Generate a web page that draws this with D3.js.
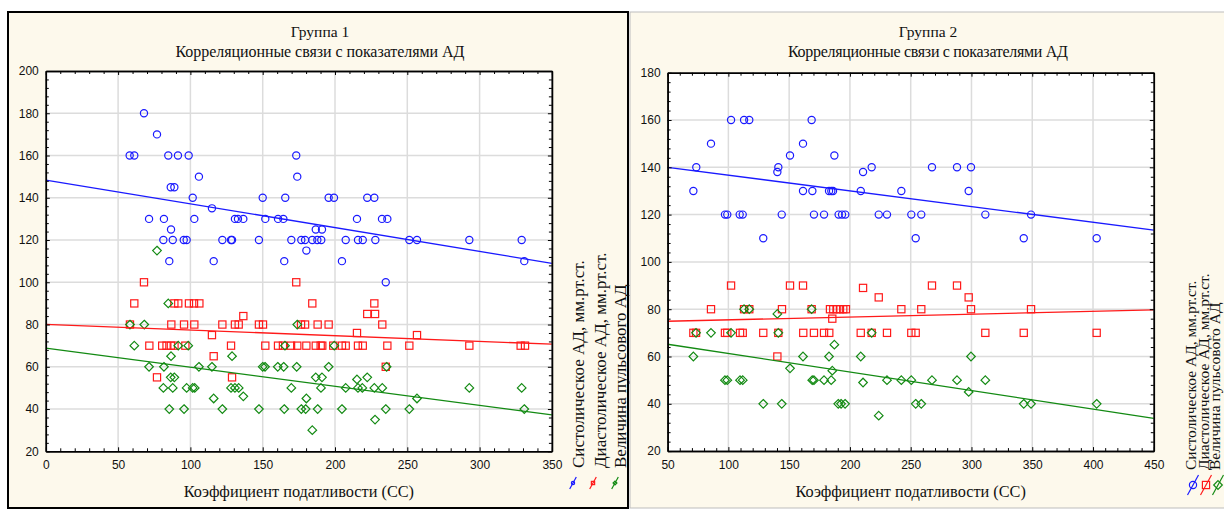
<!DOCTYPE html>
<html>
<head>
<meta charset="utf-8">
<script src="https://cdn.jsdelivr.net/npm/d3@7"></script>
<style>
  body { margin: 0; background: #ffffff; }
  svg { display: block; }
</style>
</head>
<body>
<svg id="chart" width="1224" height="509"></svg>
<script>
// ---- Group 1: compliance coefficient (CC) vs blood pressure ----
const group1Systolic = [
  [67.9,180],[76.9,170],[58.0,160],[61.2,160],[84.7,160],[91.4,160],[98.8,160],[173.2,160],
  [105.9,150],[173.9,150],[86.4,145],[88.9,145],
  [101.6,140],[150,140],[165.6,140],[195.6,140],[199.3,140],[222.3,140],[227.2,140],
  [114.9,135],
  [71.4,130],[81.7,130],[102.7,130],[130.8,130],[132.9,130],[136.6,130],[151.8,130],[160.6,130],
  [164.3,130],[215.2,130],[232.5,130],[236.2,130],
  [86.6,125],[186.7,125],[191.0,125],[180.2,115],
  [81.3,120],[87.8,120],[95.4,120],[97.4,120],[122.1,120],[128.1,120],[128.8,120],[147.4,120],
  [169.8,120],[176.7,120],[179.3,120],[184.3,120],[187.8,120],[190.5,120],[207.4,120],[215.9,120],
  [219.2,120],[227.9,120],[251.4,120],[256.7,120],[292.9,120],[329.1,120],
  [85.4,110],[116.1,110],[164.9,110],[204.8,110],[330.9,110],[235.1,100]
];
const group1Diastolic = [
  [67.9,100],[173.2,100],
  [61.2,90],[88.9,90],[91.6,90],[99.0,90],[102.5,90],[106.2,90],[184.3,90],[227.2,90],
  [222.3,85],[227.7,85],[136.6,84],
  [58.2,80],[86.8,80],[95.6,80],[102.7,80],[122.1,80],[130.8,80],[133.4,80],[147.4,80],[150.2,80],
  [176.5,80],[179.3,80],[188,80],[195.6,80],[232.7,80],
  [215.2,76],[114.9,75],[256.7,75],
  [71.6,70],[80.5,70],[83.5,70],[86.5,70],[89,70],[96.5,70],[128.1,70],[151.8,70],[160.6,70],
  [164,70],[169.6,70],[173.9,70],[180.2,70],[186.7,70],[190.1,70],[191.2,70],[198.8,70],[204.8,70],
  [207.4,70],[215.9,70],[219.2,70],[236.2,70],[251.4,70],[292.9,70],[328.4,70],[331.4,70],
  [116.1,65],[235.1,60],[76.9,55],[128.8,55]
];
const group1Pulse = [
  [76.9,115],[84.7,90],
  [58.2,80],[68.1,80],[173.9,80],
  [61.2,70],[91.6,70],[98.5,70],[165.4,70],[199.5,70],
  [86.6,65],[128.8,65],
  [71.4,60],[81.7,60],[105.9,60],[114.9,60],[150,60],[151.6,60],[160.4,60],[164.5,60],[173.5,60],
  [195.6,60],[235.7,60],
  [86.4,55],[88.9,55],[186.7,55],[191.0,55],[222.3,55],[215.2,54],
  [81.3,50],[87.8,50],[97.4,50],[101.6,50],[103,50],[128.1,50],[130.8,50],[133.4,50],[169.8,50],
  [190.3,50],[207.4,50],[215.9,50],[218.9,50],[227.2,50],[232.7,50],[292.9,50],[329.1,50],
  [136.6,46],[116.1,45],[180.2,45],[256.7,45],
  [85.4,40],[95.6,40],[122.1,40],[147.4,40],[164.9,40],[176.7,40],[179.7,40],[188,40],[204.8,40],
  [235.1,40],[251.4,40],[330.9,40],
  [227.7,35],[184.3,30]
];
// linear fits: [intercept, slope]
const group1FitSystolic = [148.4, -0.1126];
const group1FitDiastolic = [80.1, -0.0269];
const group1FitPulse = [68.8, -0.0903];
const group1XTicks = [0, 50, 100, 150, 200, 250, 300, 350];
const group1YTicks = [20, 40, 60, 80, 100, 120, 140, 160, 180, 200];

// ---- Group 2 ----
const group2Systolic = [
  [71.2,130],[73.6,140],[85.7,150],[97.2,120],[99.1,120],[102.2,160],[109.3,120],[111.8,120],
  [112.9,160],[117.2,160],[128.7,110],[140.3,138],[141.1,140],[143.9,120],[150.7,145],[161.4,150],
  [161.4,130],[169.1,130],[168.5,160],[170.4,120],[178.7,120],[182.8,130],[184.7,130],[186.1,130],
  [187.2,145],[190.7,120],[193.5,120],[196.2,120],[208.9,130],[210.8,138],[217.9,140],[223.7,120],
  [230.5,120],[242.3,130],[250.5,120],[258.7,120],[254.1,110],[267.5,140],[288.1,140],[299.6,140],
  [297.7,130],[311.4,120],[343,110],[349,120],[403,110]
];
const group2Diastolic = [
  [71.2,70],[73.4,70],[97.2,70],[99.1,70],[109.6,70],[111.8,70],[128.7,70],[141.1,70],[161.6,70],
  [170.4,70],[178.7,70],[183,70],[208.9,70],[217.9,70],[230.5,70],[250.5,70],[254.1,70],[311.4,70],
  [343,70],[403,70],
  [85.7,80],[112.9,80],[117.2,80],[144.1,80],[168.5,80],[183.6,80],[186.3,80],[189,80],[191.8,80],
  [194.5,80],[196.7,80],[242.3,80],[258.7,80],[299.6,80],[349,80],
  [102.2,90],[150.7,90],[161.4,90],[267.5,90],[288.1,90],[210.8,89],
  [223.7,85],[297.7,85],[185.5,76],[140.3,60]
];
const group2Pulse = [
  [71.2,60],[73.4,70],[85.7,70],[102.2,70],[141.1,70],[217.9,70],
  [112.9,80],[117.2,80],[168.5,80],[140.3,78],
  [161.4,60],[182.8,60],[208.9,60],[299.6,60],[187.2,65],[185.5,54],[150.7,55],
  [97.2,50],[99.1,50],[109.6,50],[111.8,50],[169,50],[170.4,50],[178.7,50],[184.6,50],[230.5,50],
  [242.3,50],[250.5,50],[267.5,50],[288.1,50],[311.4,50],[210.8,49],
  [128.7,40],[143.9,40],[190.4,40],[192.7,40],[196,40],[254.1,40],[258.7,40],[343,40],[349,40],[403,40],
  [223.7,35],[297.7,45]
];
const group2FitSystolic = [143.3, -0.0663];
const group2FitDiastolic = [74.3, 0.012];
const group2FitPulse = [69.1, -0.0783];
const group2XTicks = [50, 100, 150, 200, 250, 300, 350, 400, 450];
const group2YTicks = [20, 40, 60, 80, 100, 120, 140, 160, 180];

const groupTitles = ["Группа 1", "Группа 2"];
const chartSubtitle = "Корреляционные связи с показателями АД";
const xAxisTitle = "Коэффициент податливости (CC)";
const seriesNames = ["Систолическое АД, мм.рт.ст.", "Диастолическое АД, мм.рт.ст.", "Величина пульсового АД"];

// ---- drawing ----
const COLORS = { sys: "#1a1aff", dia: "#ff1a1a", pulse: "#138a13" };
const SERIF = "'Liberation Serif', 'Times New Roman', serif";
const SANS = "'Liberation Sans', Arial, sans-serif";

const svg = d3.select("#chart");

function marker(sel, kind, color, s) {
  if (kind === "circle") {
    sel.append("circle").attr("r", 3.6 * s).attr("fill", "none")
      .attr("stroke", color).attr("stroke-width", 1.2);
  } else if (kind === "square") {
    const h = 3.6 * s;
    sel.append("rect").attr("x", -h).attr("y", -h).attr("width", 2 * h).attr("height", 2 * h)
      .attr("fill", "none").attr("stroke", color).attr("stroke-width", 1.2);
  } else {
    const h = 4.3 * s;
    sel.append("path").attr("d", `M0,${-h}L${h},0L0,${h}L${-h},0Z`)
      .attr("fill", "none").attr("stroke", color).attr("stroke-width", 1.2);
  }
}

function drawPanel(p) {
  const g = svg.append("g");
  // panel background + frame
  g.append("rect").attr("x", p.box[0]).attr("y", p.box[1])
    .attr("width", p.box[2]).attr("height", p.box[3])
    .attr("fill", "#fdf9ec").attr("stroke", p.frame).attr("stroke-width", p.frameWidth);

  const x = d3.scaleLinear().domain(p.xDomain).range([p.plot[0], p.plot[1]]);
  const y = d3.scaleLinear().domain(p.yDomain).range([p.plot[3], p.plot[2]]);

  g.append("rect").attr("x", p.plot[0]).attr("y", p.plot[2])
    .attr("width", p.plot[1] - p.plot[0]).attr("height", p.plot[3] - p.plot[2])
    .attr("fill", "#ffffff");

  // gridlines
  const grid = g.append("g").attr("stroke", "#dcdcdc").attr("stroke-width", 1.5);
  p.xTicks.slice(1, -1).forEach(v => grid.append("line")
    .attr("x1", x(v)).attr("x2", x(v)).attr("y1", p.plot[2]).attr("y2", p.plot[3]));
  p.yTicks.slice(1, -1).forEach(v => grid.append("line")
    .attr("y1", y(v)).attr("y2", y(v)).attr("x1", p.plot[0]).attr("x2", p.plot[1]));

  const clipId = "clip" + p.id;
  g.append("clipPath").attr("id", clipId).append("rect")
    .attr("x", p.plot[0]).attr("y", p.plot[2])
    .attr("width", p.plot[1] - p.plot[0]).attr("height", p.plot[3] - p.plot[2]);

  const series = [
    { data: p.sys, fit: p.fitSys, color: COLORS.sys, kind: "circle" },
    { data: p.dia, fit: p.fitDia, color: COLORS.dia, kind: "square" },
    { data: p.pulse, fit: p.fitPulse, color: COLORS.pulse, kind: "diamond" }
  ];

  // points
  series.forEach(s => {
    const pts = g.append("g");
    s.data.forEach(d => {
      const m = pts.append("g").attr("transform", `translate(${x(d[0])},${y(d[1])})`);
      marker(m, s.kind, s.color, 1);
    });
  });

  // fit lines
  const line = d3.line().x(d => x(d[0])).y(d => y(d[1]));
  series.forEach(s => {
    const ends = p.xDomain.map(v => [v, s.fit[0] + s.fit[1] * v]);
    g.append("path").attr("d", line(ends)).attr("clip-path", `url(#${clipId})`)
      .attr("fill", "none").attr("stroke", s.color).attr("stroke-width", 1.3);
  });

  // axes (ticks point inward on all four sides)
  const [xs, xe] = [p.xTicks[0], p.xTicks[p.xTicks.length - 1]];
  const [ys, ye] = [p.yTicks[0], p.yTicks[p.yTicks.length - 1]];
  const xStep = (p.xTicks[1] - p.xTicks[0]) / 5;
  const yStep = (p.yTicks[1] - p.yTicks[0]) / 5;
  const xMinor = d3.range(xs, xe + 1e-9, xStep).filter(v => !p.xTicks.some(t => Math.abs(t - v) < 1e-6));
  const yMinor = d3.range(ys, ye + 1e-9, yStep).filter(v => !p.yTicks.some(t => Math.abs(t - v) < 1e-6));

  function styleAxis(a) {
    a.selectAll("path.domain").attr("stroke", "#000").attr("stroke-width", 1.5);
    a.selectAll(".tick line").attr("stroke", "#000").attr("stroke-width", 1);
    a.selectAll("text").attr("font-family", SANS).attr("font-size", 12).attr("fill", "#111");
  }

  const bottom = g.append("g").attr("transform", `translate(0,${p.plot[3]})`)
    .call(d3.axisBottom(x).tickValues(p.xTicks).tickSize(-4).tickSizeOuter(0).tickPadding(9));
  styleAxis(bottom);
  const bottomMinor = g.append("g").attr("transform", `translate(0,${p.plot[3]})`)
    .call(d3.axisBottom(x).tickValues(xMinor).tickSize(-3).tickSizeOuter(0).tickFormat(""));
  styleAxis(bottomMinor);
  const top = g.append("g").attr("transform", `translate(0,${p.plot[2]})`)
    .call(d3.axisTop(x).tickValues(p.xTicks).tickSize(-4).tickSizeOuter(0).tickFormat(""));
  styleAxis(top);
  const topMinor = g.append("g").attr("transform", `translate(0,${p.plot[2]})`)
    .call(d3.axisTop(x).tickValues(xMinor).tickSize(-3).tickSizeOuter(0).tickFormat(""));
  styleAxis(topMinor);

  const left = g.append("g").attr("transform", `translate(${p.plot[0]},0)`)
    .call(d3.axisLeft(y).tickValues(p.yTicks).tickSize(-4).tickSizeOuter(0).tickPadding(7));
  styleAxis(left);
  const leftMinor = g.append("g").attr("transform", `translate(${p.plot[0]},0)`)
    .call(d3.axisLeft(y).tickValues(yMinor).tickSize(-3).tickSizeOuter(0).tickFormat(""));
  styleAxis(leftMinor);
  const right = g.append("g").attr("transform", `translate(${p.plot[1]},0)`)
    .call(d3.axisRight(y).tickValues(p.yTicks).tickSize(-4).tickSizeOuter(0).tickFormat(""));
  styleAxis(right);
  const rightMinor = g.append("g").attr("transform", `translate(${p.plot[1]},0)`)
    .call(d3.axisRight(y).tickValues(yMinor).tickSize(-3).tickSizeOuter(0).tickFormat(""));
  styleAxis(rightMinor);

  // titles
  g.append("text").attr("x", p.titleX).attr("y", 37).attr("text-anchor", "middle")
    .attr("font-family", SERIF).attr("font-size", 15.5).attr("fill", "#111").text(p.title);
  g.append("text").attr("x", p.titleX).attr("y", 57).attr("text-anchor", "middle")
    .attr("font-family", SERIF).attr("font-size", 16).attr("fill", "#111")
    .attr("textLength", p.subtitleWidth).attr("lengthAdjust", "spacing").text(chartSubtitle);
  const cx = (p.plot[0] + p.plot[1]) / 2;
  g.append("text").attr("x", cx).attr("y", 497).attr("text-anchor", "middle")
    .attr("font-family", SERIF).attr("font-size", 16.3).attr("fill", "#111").text(xAxisTitle);

  // legend: rotated labels with symbols beneath
  series.forEach((s, i) => {
    const lx = p.legendX[i];
    g.append("text").attr("transform", `translate(${lx + 6},${p.legendY}) rotate(-90)`)
      .attr("font-family", SERIF).attr("font-size", p.legendFont).attr("fill", "#111").text(seriesNames[i]);
    const sy = p.legendSymY, sx = p.legendSymX[i], L = p.legendSymLen;
    g.append("line").attr("x1", sx - L * 0.55).attr("y1", sy + L).attr("x2", sx + L * 0.55).attr("y2", sy - L)
      .attr("stroke", s.color).attr("stroke-width", 1.2);
    const m = g.append("g").attr("transform", `translate(${sx},${sy})`);
    marker(m, s.kind, s.color, p.legendSymScale);
  });
}

drawPanel({
  id: 1, title: groupTitles[0], titleX: 320, subtitleWidth: 289,
  box: [8, 12, 620, 496], frame: "#000", frameWidth: 2,
  plot: [45.8, 551.9, 71, 451.3],
  xDomain: [0, 350], yDomain: [20, 200],
  xTicks: group1XTicks, yTicks: group1YTicks,
  sys: group1Systolic, dia: group1Diastolic, pulse: group1Pulse,
  fitSys: group1FitSystolic, fitDia: group1FitDiastolic, fitPulse: group1FitPulse,
  legendX: [578, 600, 620], legendY: 468, legendFont: 17,
  legendSymX: [573, 593, 615], legendSymY: 483, legendSymLen: 6, legendSymScale: 0.45
});

drawPanel({
  id: 2, title: groupTitles[1], titleX: 928, subtitleWidth: 280,
  box: [630, 12, 600, 496], frame: "#bdbdbd", frameWidth: 1,
  plot: [667.6, 1153.8, 72.7, 451.1],
  xDomain: [50, 450], yDomain: [20, 180],
  xTicks: group2XTicks, yTicks: group2YTicks,
  sys: group2Systolic, dia: group2Diastolic, pulse: group2Pulse,
  fitSys: group2FitSystolic, fitDia: group2FitDiastolic, fitPulse: group2FitPulse,
  legendX: [1190, 1203, 1214], legendY: 470, legendFont: 15.5,
  legendSymX: [1193, 1206, 1218], legendSymY: 485, legendSymLen: 10, legendSymScale: 1
});
</script>
</body>
</html>
